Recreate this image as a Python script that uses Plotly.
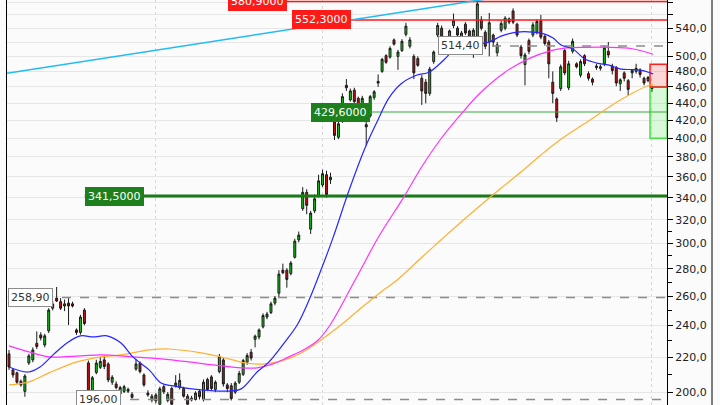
import math
import plotly.graph_objects as go

# ---------------- data ----------------
opens = [222.0, 212.5, 210.8, 206.0, 200.4, 216.6, 218.4, 228.5, 233.8, 227.5,
         236.4, 251.5, 258.5, 256.0, 253.0, 255.0, 254.5, 237.0, 235.4, 250.2,
         216.6, 200.4, 211.0, 214.0, 218.4, 216.0, 205.5, 204.5, 199.0, 200.4,
         201.5, 198.8, 213.0, 216.5, 209.6, 199.5, 195.8, 198.5, 193.5, 203.0,
         195.5, 202.0, 203.5, 202.5, 202.0, 197.8, 195.8, 196.0, 200.5, 196.0,
         207.0, 208.5, 201.5, 211.5, 218.4, 204.0, 203.5, 200.0, 205.5, 210.0,
         217.0, 223.0, 231.0, 232.5, 239.0, 245.5, 248.5, 255.0, 262.0, 279.0,
         279.0, 276.5, 289.0, 303.0, 330.0, 345.0, 312.0, 328.0, 342.0, 352.0,
         362.0, 357.0, 418.0, 401.0, 420.0, 462.0, 444.0, 456.0, 446.0, 438.0,
         415.0, 425.0, 447.0, 467.0, 480.0, 501.0, 499.0, 523.0, 500.0, 508.0,
         531.0, 514.0, 500.0, 497.0, 471.0, 466.0, 452.0, 493.0, 530.0, 540.0,
         518.0, 528.0, 544.0, 540.0, 525.0, 546.0, 536.0, 522.0, 517.0, 553.0,
         534.0, 520.0, 530.0, 505.0, 537.0, 540.0, 554.0, 566.0, 546.0, 513.0,
         489.0, 522.0, 530.0, 534.0, 551.0, 528.0, 520.0, 466.0, 445.0, 458.0,
         508.0, 459.0, 507.0, 490.0, 475.0, 501.0, 477.0, 470.0, 485.0, 484.0,
         490.0, 507.0, 487.0, 485.0, 464.0, 478.0, 468.0, 478.0, 480.0, 482.0,
         471.0, 468.0, 459.5]
highs = [224.4, 213.5, 211.5, 207.0, 210.0, 222.0, 226.0, 236.0, 235.5, 234.5,
         251.5, 256.5, 266.5, 258.5, 257.5, 258.5, 256.0, 238.0, 247.0, 251.5,
         218.0, 209.0, 218.5, 220.0, 221.0, 217.0, 209.5, 206.0, 203.5, 204.0,
         202.5, 200.0, 219.0, 217.5, 210.5, 201.0, 199.0, 199.5, 203.0, 204.0,
         200.0, 203.0, 209.5, 210.5, 203.0, 199.0, 198.0, 200.5, 201.5, 207.0,
         208.0, 209.5, 206.5, 222.0, 219.5, 205.0, 205.0, 206.0, 212.0, 219.0,
         222.5, 225.0, 234.0, 238.0, 248.0, 249.0, 256.0, 260.0, 279.0, 284.0,
         280.5, 286.0, 304.0, 310.0, 350.0, 348.0, 328.0, 343.0, 362.0, 367.0,
         366.0, 364.0, 420.0, 419.0, 452.0, 470.0, 458.0, 459.0, 448.0, 449.0,
         426.0, 450.0, 456.0, 476.0, 498.0, 503.0, 514.0, 525.0, 509.0, 524.0,
         548.0, 527.0, 503.0, 500.0, 475.0, 470.0, 486.0, 508.0, 548.0, 544.0,
         520.0, 538.0, 562.0, 543.0, 536.0, 549.0, 538.0, 540.0, 582.0, 558.0,
         537.0, 563.0, 532.0, 520.0, 551.0, 558.0, 556.0, 570.0, 548.0, 516.0,
         505.0, 525.0, 549.0, 553.0, 560.0, 531.0, 523.0, 480.0, 447.0, 489.0,
         510.0, 494.0, 525.0, 492.0, 496.0, 503.0, 480.0, 472.0, 490.0, 489.0,
         515.0, 520.0, 490.0, 487.0, 471.0, 480.0, 470.0, 483.0, 490.0, 484.0,
         473.0, 474.0, 461.0]
lows = [212.5, 208.0, 204.5, 203.0, 197.5, 215.4, 217.0, 225.0, 230.3, 226.0,
        235.0, 250.0, 255.8, 250.2, 249.5, 240.2, 252.0, 233.8, 234.0, 240.0,
        192.5, 198.0, 210.0, 213.0, 213.0, 205.5, 204.0, 201.5, 198.0, 199.5,
        199.5, 196.5, 212.0, 210.5, 203.0, 197.5, 194.5, 194.0, 193.0, 199.0,
        194.5, 193.0, 202.5, 201.5, 197.0, 193.0, 195.0, 195.5, 196.0, 195.0,
        200.5, 201.0, 200.0, 210.5, 203.0, 200.0, 195.5, 199.0, 204.5, 209.0,
        215.5, 218.0, 226.0, 231.0, 238.0, 244.0, 247.5, 253.5, 258.5, 276.0,
        266.0, 275.0, 288.0, 301.0, 328.0, 325.0, 308.0, 326.0, 340.0, 350.0,
        340.0, 353.0, 398.0, 399.0, 417.0, 455.0, 442.0, 440.0, 431.0, 436.0,
        392.0, 423.0, 444.0, 460.0, 478.0, 490.0, 497.0, 515.0, 482.0, 506.0,
        528.0, 511.0, 470.0, 486.0, 438.0, 440.0, 449.0, 490.0, 527.0, 524.0,
        508.0, 525.0, 540.0, 527.0, 521.0, 530.0, 518.0, 498.0, 514.0, 537.0,
        510.0, 500.0, 513.0, 500.0, 534.0, 537.0, 546.0, 546.0, 527.0, 497.0,
        462.0, 503.0, 527.0, 531.0, 524.0, 515.0, 471.0, 440.0, 418.0, 455.0,
        475.0, 456.0, 504.0, 484.0, 472.0, 487.0, 468.0, 462.0, 482.0, 481.0,
        487.0, 498.0, 476.0, 461.0, 455.0, 467.0, 449.0, 471.0, 477.0, 472.0,
        462.0, 466.0, 454.0]
closes = [214.2, 209.6, 205.5, 204.0, 209.0, 220.8, 224.4, 226.5, 231.9, 233.2,
          250.2, 254.4, 256.5, 251.5, 254.5, 253.0, 253.0, 235.4, 245.5, 241.2,
          193.5, 208.0, 216.5, 217.5, 214.5, 206.8, 208.3, 202.5, 202.5, 203.0,
          200.5, 197.2, 216.0, 211.5, 204.0, 198.5, 197.8, 195.3, 201.8, 200.2,
          198.8, 193.5, 205.0, 206.5, 197.8, 193.5, 196.8, 199.5, 197.5, 205.5,
          201.5, 202.0, 205.5, 220.5, 204.5, 202.0, 196.5, 205.0, 210.5, 218.0,
          221.0, 219.5, 233.0, 237.0, 246.5, 247.5, 254.5, 258.5, 276.0, 277.0,
          272.0, 284.5, 302.0, 307.0, 345.0, 333.0, 326.0, 339.0, 356.0, 363.0,
          343.0, 359.5, 403.0, 416.0, 448.0, 459.0, 455.0, 442.0, 434.0, 446.0,
          412.5, 448.0, 454.0, 465.0, 496.0, 492.0, 511.0, 517.0, 506.0, 521.0,
          543.0, 523.0, 478.0, 488.0, 455.0, 452.0, 483.0, 506.0, 544.0, 527.0,
          515.0, 536.0, 551.0, 530.0, 533.0, 533.0, 526.0, 537.0, 577.0, 540.0,
          514.0, 548.0, 520.0, 516.0, 547.0, 555.0, 549.0, 549.0, 530.0, 501.0,
          502.0, 507.0, 545.0, 550.0, 527.0, 518.0, 490.0, 452.0, 423.0, 486.0,
          478.0, 490.0, 521.0, 486.0, 493.0, 490.0, 471.0, 466.0, 487.0, 486.0,
          512.0, 502.0, 481.0, 465.0, 469.0, 471.0, 457.0, 481.0, 484.0, 476.0,
          465.0, 472.0, 458.0]
bars = list(range(len(opens)))

# moving averages, sampled along the curves (bar index, price)
ma_fast_x = [0, 4.8, 7.8, 11.1, 14.6, 18.0, 21.2, 24.7, 28.2, 31.2, 35.3, 38.3, 41.3,
             48.4, 55.4, 58.5, 62.5, 65.5, 69.5, 72.6, 75.6, 78.6, 81.6, 85.7, 89.7,
             92.7, 95.7, 98.8, 102.8, 105.8, 109.8, 112.9, 117.9, 120.9, 124.0,
             128.0, 132.0, 135.0, 137.1, 139.1, 142.1, 145.1, 148.1, 151.2, 154.2,
             157.2, 160.2, 162.3]
ma_fast_y = [214.2, 211.3, 214.2, 221.4, 228.7, 233.2, 232.5, 233.2, 228.7, 220.2,
             212.5, 205.1, 203.4, 201.2, 200.6, 201.8, 211.3, 217.2, 229.3, 240.2,
             257.2, 279.1, 304.5, 347.2, 389.4, 418.0, 446.2, 464.0, 475.2, 478.8,
             496.4, 512.9, 517.1, 519.9, 528.4, 534.3, 534.3, 531.4, 525.6, 515.7,
             510.1, 496.4, 491.0, 488.3, 483.0, 482.3, 480.4, 476.5]
ma_mid_x = [0, 5, 10.1, 18.1, 23.2, 31.2, 38.3, 45.3, 51.4, 58.5, 62.5, 66.5, 70.5,
            74.6, 77.9, 80.9, 87.2, 93.2, 99.3, 104.0, 108.6, 114.1, 118.7,
            124.7, 131.0, 136.6, 140.0, 145.0, 151.0, 157.0, 162.3]
ma_mid_y = [226.9, 223.2, 220.2, 220.8, 221.4, 220.2, 219.0, 217.2, 215.4, 213.7,
            213.7, 216.0, 220.2, 225.0, 230.6, 240.2, 271.6, 306.0, 339.6, 370.0,
            398.0, 428.2, 452.4, 478.0, 497.0, 508.0, 511.4, 512.5, 512.5,
            510.5, 503.0]
ma_slow_x = [0, 5, 10.1, 17.1, 23.2, 28.2, 35.3, 40.3, 48.4, 55.4, 59.5, 64.5, 69.5,
             73.6, 78.6, 83.6, 88.7, 94.7, 97.8, 103.8, 108.8, 113.9, 118.9, 124.0,
             129.0, 134.0, 138.8, 146.4, 154.0, 161.5, 162.3]
ma_slow_y = [204.0, 205.7, 210.8, 217.2, 220.2, 221.4, 224.4, 225.0, 222.6, 219.0,
             216.6, 216.0, 218.4, 222.6, 230.6, 240.2, 251.6, 265.0, 271.6, 288.4,
             302.9, 318.2, 333.3, 349.1, 364.7, 382.0, 398.0, 420.3, 443.8, 462.4,
             463.0]

trend_x = [-0.5, 120.5]
trend_y = [477.6, 585.0]

level_prices = [580.9, 552.3, 429.6, 341.5, 514.4, 258.9, 196.0]
level_texts = ["580,9000", "552,3000", "429,6000", "341,5000", "514,40", "258,90", "196,00"]
level_kinds = ["res", "res", "sup", "sup_major", "mark", "mark", "mark"]

pos_entry = 460.0
pos_upper = 489.5
pos_lower = 400.0

y_ticks = [200, 220, 240, 260, 280, 300, 320, 340, 360, 380, 400, 420, 440, 460,
           480, 500, 520, 540, 560, 580]
y_unlabeled = [520, 560]
y_minor = [210, 230, 250, 270, 290, 310]

# ---------------- layout positions (bar index units) ----------------
level_starts = [55.2, 71.3, 76.1, 19.1, 108.1, -0.25, 16.9]
pos_start = 161.5
x_lo, x_hi = -0.504, 165.78
vgrid = [36.8, 78.9, 161.8]

styles = {
    "res": dict(line=dict(color="#ff1a1a", width=1.5), bg="#ff1a1a", border="#ff1a1a", fc="#ffffff"),
    "sup": dict(line=dict(color="#3aa83a", width=1.2), bg="#1d801d", border="#1d801d", fc="#ffffff"),
    "sup_major": dict(line=dict(color="#1a7a1a", width=3), bg="#1d801d", border="#1d801d", fc="#ffffff"),
    "mark": dict(line=dict(color="#8c8c8c", width=1.5, dash="dash"), bg="#ffffff", border="#8c8c8c", fc="#333333"),
}

fig = go.Figure()

# position tool boxes
fig.add_trace(go.Scatter(x=[pos_start, x_hi, x_hi, pos_start, pos_start],
                         y=[pos_entry, pos_entry, pos_lower, pos_lower, pos_entry],
                         fill="toself", fillcolor="rgba(0,230,0,0.13)", mode="lines",
                         line=dict(color="#44dd44", width=1.5), hoverinfo="skip", showlegend=False))
fig.add_trace(go.Scatter(x=[pos_start, x_hi, x_hi, pos_start, pos_start],
                         y=[pos_entry, pos_entry, pos_upper, pos_upper, pos_entry],
                         fill="toself", fillcolor="rgba(255,0,0,0.14)", mode="lines",
                         line=dict(color="#ff2020", width=1.5), hoverinfo="skip", showlegend=False))

# horizontal levels
for p, s, k in zip(level_prices, level_starts, level_kinds):
    fig.add_trace(go.Scatter(x=[s, x_hi], y=[p, p], mode="lines", line=styles[k]["line"],
                             hoverinfo="skip", showlegend=False))

# trend line
fig.add_trace(go.Scatter(x=trend_x, y=trend_y, mode="lines",
                         line=dict(color="#22bbf5", width=1.5), hoverinfo="skip", showlegend=False))

# candles
fig.add_trace(go.Candlestick(
    x=bars, open=opens, high=highs, low=lows, close=closes,
    increasing=dict(fillcolor="#16c416", line=dict(color="#1a1a1a", width=1)),
    decreasing=dict(fillcolor="#c41010", line=dict(color="#1a1a1a", width=1)),
    whiskerwidth=0, showlegend=False, hoverinfo="skip"))

# moving averages
fig.add_trace(go.Scatter(x=ma_slow_x, y=ma_slow_y, mode="lines", line=dict(color="#ffb030", width=1.2, shape="spline"),
                         hoverinfo="skip", showlegend=False))
fig.add_trace(go.Scatter(x=ma_mid_x, y=ma_mid_y, mode="lines", line=dict(color="#ff33ff", width=1.2, shape="spline"),
                         hoverinfo="skip", showlegend=False))
fig.add_trace(go.Scatter(x=ma_fast_x, y=ma_fast_y, mode="lines", line=dict(color="#2626ff", width=1.2, shape="spline"),
                         hoverinfo="skip", showlegend=False))

# level labels
for p, s, t, k in zip(level_prices, level_starts, level_texts, level_kinds):
    st = styles[k]
    fig.add_annotation(x=s, y=math.log10(p), text=t, showarrow=False, xanchor="left", yanchor="middle",
                       bgcolor=st["bg"], bordercolor=st["border"], borderwidth=1, borderpad=2,
                       font=dict(family="DejaVu Sans", size=11, color=st["fc"]))

ticktext = ["" if v in y_unlabeled else f"{v:.1f}".replace(".", ",") for v in y_ticks]

fig.update_layout(
    width=720, height=405,
    margin=dict(l=7, r=53, t=0, b=0, autoexpand=False),
    paper_bgcolor="#fbfbfb", plot_bgcolor="#fbfbfb",
    xaxis=dict(range=[x_lo, x_hi], rangeslider=dict(visible=False), showticklabels=False,
               tickmode="array", tickvals=vgrid, ticks="", showgrid=True, automargin=False,
               gridcolor="#d6d6d6", griddash="dot", gridwidth=1, zeroline=False, showline=False),
    yaxis=dict(type="log", side="right", automargin=False,
               range=[math.log10(193.1), math.log10(583.2)],
               tickmode="array", tickvals=y_ticks, ticktext=ticktext,
               ticks="outside", ticklen=5, tickcolor="#000000", tickwidth=1,
               showline=True, linecolor="#000000", linewidth=1, mirror=True,
               showgrid=True, gridcolor="#e6e6e6", gridwidth=1, zeroline=False,
               tickfont=dict(family="DejaVu Sans", size=11, color="#222222"),
               minor=dict(tickmode="array", tickvals=y_minor, ticks="outside", ticklen=4,
                          tickcolor="#000000", showgrid=False)),
    shapes=[dict(type="line", xref="paper", yref="paper", x0=1.0682, x1=1.0682, y0=0, y1=1,
                 line=dict(color="#000000", width=1))],
    showlegend=False,
)

fig.write_html("out.html", config={"displayModeBar": False},
               post_script="document.body.style.margin='0px';document.body.style.background='#fbfbfb';")
